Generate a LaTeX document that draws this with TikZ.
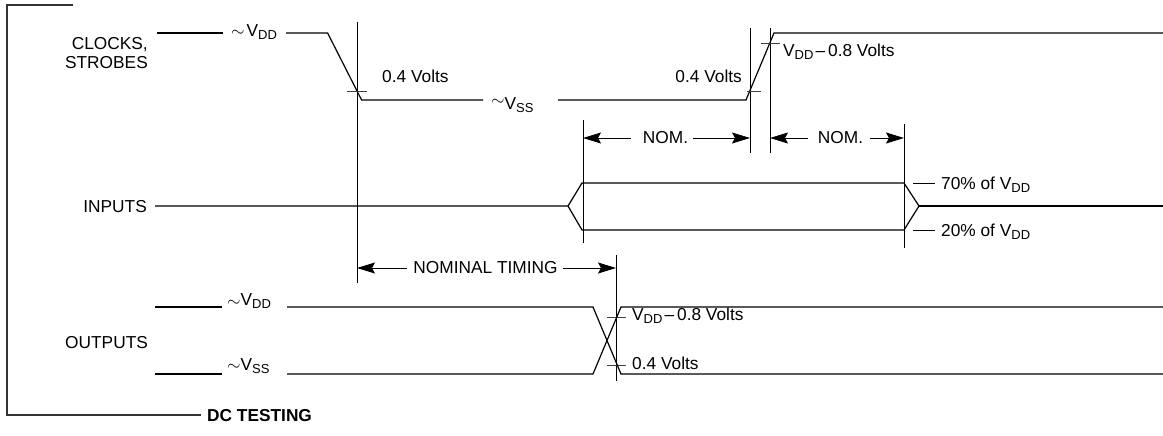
\documentclass[tikz,border=0pt]{standalone}
\usepackage{fontspec}
\setmainfont{Liberation Sans}
\usetikzlibrary{arrows.meta}
\newcommand\sbs[1]{\raisebox{-3pt}{\fontsize{13}{13}\selectfont #1}}
\newcommand\tld{$\sim$}
\begin{document}
\begin{tikzpicture}[x=1pt,y=-1pt,
  font=\fontsize{17.3}{20}\selectfont,
  sig/.style={line width=1.2pt},
  guide/.style={line width=0.9pt},
  tickmark/.style={line width=0.8pt,black!75},
  lbl/.style={inner sep=0pt},
  dim/.style={line width=0.9pt,-{Stealth[length=18pt,width=11pt,inset=3pt]}}]
\fill[white] (0,0) rectangle (1163,436);
\useasboundingbox (0,0) rectangle (1163,436);

% frame
\draw[line width=1.2pt,black!80] (73,5) -- (7,5) -- (7,415) -- (201,415);
\node[lbl,anchor=base west,font=\fontsize{17.3}{20}\selectfont\bfseries] (dct) at (207,421) {DC TESTING};

% ---------------- clocks
\node[lbl,anchor=base east] (clk1) at (148,50) {CLOCKS,};
\node[lbl,anchor=base east] (clk2) at (148,68.5) {STROBES};
\node[lbl,anchor=base west] (cvdd) at (231,37) {\tld\kern2pt V\sbs{DD}};
\node[lbl,anchor=base west] (cvss) at (491,110) {\raisebox{4pt}{\tld}V\sbs{SS}};
\draw[sig] (157,33) -- (223,33);
\draw[sig] (286,33) -- (327.6,33) -- (361.6,100) -- (483,100);
\draw[sig] (558,100) -- (746,100) -- (774,33) -- (1163,33);

% guides
\draw[guide] (357,22) -- (357,283);
\draw[guide] (750,28) -- (750,153);
\draw[guide] (770,28) -- (770,153);
\draw[guide] (583,120) -- (583,243);
\draw[guide] (904,124) -- (904,248);
\draw[guide] (616,255) -- (616,381);

% ticks
\draw[tickmark] (347,91) -- (367,91);
\draw[tickmark] (747,91) -- (761,91);
\draw[tickmark] (761,43) -- (780,43);
\draw[tickmark] (607,317) -- (626,317);
\draw[tickmark] (607,365) -- (626,365);

\node[lbl,anchor=base west] (v04a) at (382,82) {0.4 Volts};
\node[lbl,anchor=base east] (v04b) at (742,82) {0.4 Volts};
\node[lbl,anchor=base west] (vdd08a) at (783,57) {V\sbs{DD}\kern2pt--\kern3pt0.8 Volts};

% NOM arrows
\coordinate (n1l) at (583,138);
\coordinate (n1r) at (750,138);
\coordinate (n2l) at (770,138);
\coordinate (n2r) at (904,138);
\node[lbl] (nom1) at (665.5,138) {NOM.};
\node[lbl] (nom2) at (840.5,138) {NOM.};
\draw[dim] ([xshift=-12pt]nom1.west) -- (n1l);
\draw[dim] ([xshift=5pt]nom1.east) -- (n1r);
\draw[dim] ([xshift=-10pt]nom2.west) -- (n2l);
\draw[dim] ([xshift=7pt]nom2.east) -- (n2r);

% ---------------- inputs
\node[lbl,anchor=base east] (inp) at (147,212) {INPUTS};
\draw[sig] (155,206) -- (568,206) -- (582,183) -- (904,183) -- (919,206) -- (904,230) -- (582,230) -- (568,206);
\draw[sig] (919,206) -- (1163,206);
\draw[guide] (913,183) -- (935,183);
\draw[guide] (913,230) -- (935,230);
\node[lbl,anchor=base west] (p70) at (941,189) {70\% of V\sbs{DD}};
\node[lbl,anchor=base west] (p20) at (941,236) {20\% of V\sbs{DD}};

% nominal timing
\coordinate (ntl) at (357,268);
\coordinate (ntr) at (616,268);
\node[lbl] (nt) at (485.5,268) {NOMINAL TIMING};
\draw[dim] ([xshift=-6pt]nt.west) -- (ntl);
\draw[dim] ([xshift=5pt]nt.east) -- (ntr);

% ---------------- outputs
\node[lbl,anchor=base west] (outl) at (65,348) {OUTPUTS};
\node[lbl,anchor=base west] (ovdd) at (227,305) {\raisebox{-1pt}{\tld}V\sbs{DD}};
\node[lbl,anchor=base west] (ovss) at (227,370) {\tld V\sbs{SS}};
\draw[sig] (155,307) -- (222,307);
\draw[sig] (287,307) -- (593,307) -- (621,374) -- (1163,374);
\draw[sig] (155,374) -- (222,374);
\draw[sig] (287,374) -- (593,374) -- (621,307) -- (1163,307);
\node[lbl,anchor=base west] (ovdd08) at (632,320) {V\sbs{DD}\kern2pt--\kern3pt0.8 Volts};
\node[lbl,anchor=base west] (o04) at (632,369) {0.4 Volts};
\end{tikzpicture}
\end{document}
